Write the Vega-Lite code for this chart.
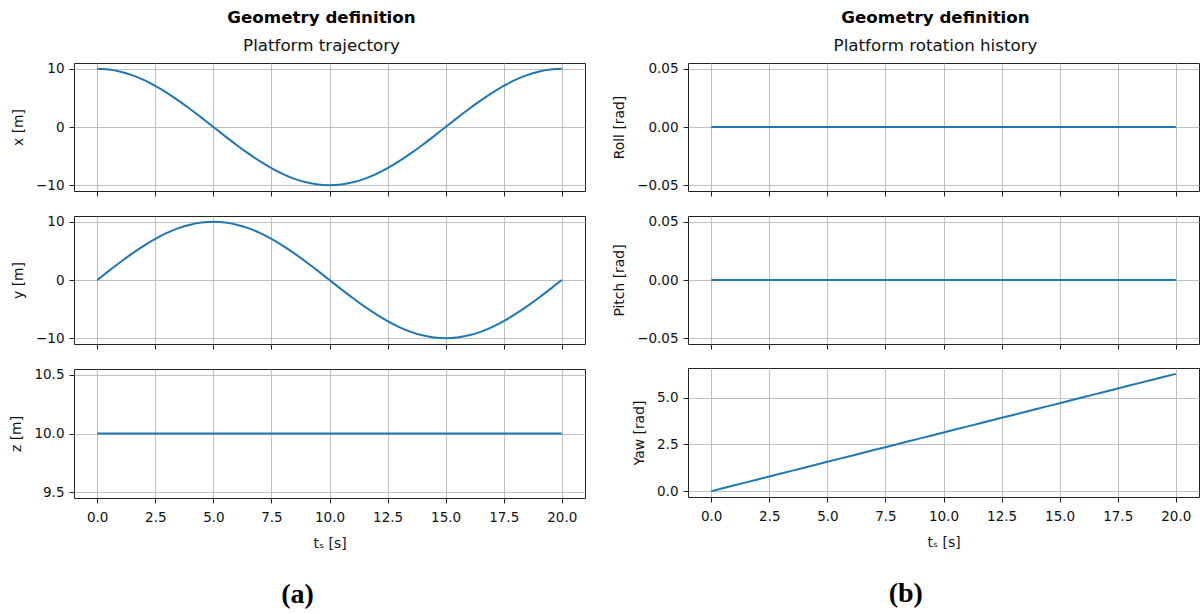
{
"$schema": "https://vega.github.io/schema/vega-lite/v6.json",
"background": "white",
"padding": {"left": 9, "top": 9, "right": 4, "bottom": 0},
"datasets": {"d": [
{"t":0,"x":10,"y":0,"z":10,"roll":0,"pitch":0,"yaw":0},
{"t":0.5,"x":9.877,"y":1.564,"z":10,"roll":0,"pitch":0,"yaw":0.157},
{"t":1,"x":9.511,"y":3.09,"z":10,"roll":0,"pitch":0,"yaw":0.314},
{"t":1.5,"x":8.91,"y":4.54,"z":10,"roll":0,"pitch":0,"yaw":0.471},
{"t":2,"x":8.09,"y":5.878,"z":10,"roll":0,"pitch":0,"yaw":0.628},
{"t":2.5,"x":7.071,"y":7.071,"z":10,"roll":0,"pitch":0,"yaw":0.785},
{"t":3,"x":5.878,"y":8.09,"z":10,"roll":0,"pitch":0,"yaw":0.942},
{"t":3.5,"x":4.54,"y":8.91,"z":10,"roll":0,"pitch":0,"yaw":1.1},
{"t":4,"x":3.09,"y":9.511,"z":10,"roll":0,"pitch":0,"yaw":1.257},
{"t":4.5,"x":1.564,"y":9.877,"z":10,"roll":0,"pitch":0,"yaw":1.414},
{"t":5,"x":0,"y":10,"z":10,"roll":0,"pitch":0,"yaw":1.571},
{"t":5.5,"x":-1.564,"y":9.877,"z":10,"roll":0,"pitch":0,"yaw":1.728},
{"t":6,"x":-3.09,"y":9.511,"z":10,"roll":0,"pitch":0,"yaw":1.885},
{"t":6.5,"x":-4.54,"y":8.91,"z":10,"roll":0,"pitch":0,"yaw":2.042},
{"t":7,"x":-5.878,"y":8.09,"z":10,"roll":0,"pitch":0,"yaw":2.199},
{"t":7.5,"x":-7.071,"y":7.071,"z":10,"roll":0,"pitch":0,"yaw":2.356},
{"t":8,"x":-8.09,"y":5.878,"z":10,"roll":0,"pitch":0,"yaw":2.513},
{"t":8.5,"x":-8.91,"y":4.54,"z":10,"roll":0,"pitch":0,"yaw":2.67},
{"t":9,"x":-9.511,"y":3.09,"z":10,"roll":0,"pitch":0,"yaw":2.827},
{"t":9.5,"x":-9.877,"y":1.564,"z":10,"roll":0,"pitch":0,"yaw":2.985},
{"t":10,"x":-10,"y":0,"z":10,"roll":0,"pitch":0,"yaw":3.142},
{"t":10.5,"x":-9.877,"y":-1.564,"z":10,"roll":0,"pitch":0,"yaw":3.299},
{"t":11,"x":-9.511,"y":-3.09,"z":10,"roll":0,"pitch":0,"yaw":3.456},
{"t":11.5,"x":-8.91,"y":-4.54,"z":10,"roll":0,"pitch":0,"yaw":3.613},
{"t":12,"x":-8.09,"y":-5.878,"z":10,"roll":0,"pitch":0,"yaw":3.77},
{"t":12.5,"x":-7.071,"y":-7.071,"z":10,"roll":0,"pitch":0,"yaw":3.927},
{"t":13,"x":-5.878,"y":-8.09,"z":10,"roll":0,"pitch":0,"yaw":4.084},
{"t":13.5,"x":-4.54,"y":-8.91,"z":10,"roll":0,"pitch":0,"yaw":4.241},
{"t":14,"x":-3.09,"y":-9.511,"z":10,"roll":0,"pitch":0,"yaw":4.398},
{"t":14.5,"x":-1.564,"y":-9.877,"z":10,"roll":0,"pitch":0,"yaw":4.555},
{"t":15,"x":0,"y":-10,"z":10,"roll":0,"pitch":0,"yaw":4.712},
{"t":15.5,"x":1.564,"y":-9.877,"z":10,"roll":0,"pitch":0,"yaw":4.869},
{"t":16,"x":3.09,"y":-9.511,"z":10,"roll":0,"pitch":0,"yaw":5.027},
{"t":16.5,"x":4.54,"y":-8.91,"z":10,"roll":0,"pitch":0,"yaw":5.184},
{"t":17,"x":5.878,"y":-8.09,"z":10,"roll":0,"pitch":0,"yaw":5.341},
{"t":17.5,"x":7.071,"y":-7.071,"z":10,"roll":0,"pitch":0,"yaw":5.498},
{"t":18,"x":8.09,"y":-5.878,"z":10,"roll":0,"pitch":0,"yaw":5.655},
{"t":18.5,"x":8.91,"y":-4.54,"z":10,"roll":0,"pitch":0,"yaw":5.812},
{"t":19,"x":9.511,"y":-3.09,"z":10,"roll":0,"pitch":0,"yaw":5.969},
{"t":19.5,"x":9.877,"y":-1.564,"z":10,"roll":0,"pitch":0,"yaw":6.126},
{"t":20,"x":10,"y":0,"z":10,"roll":0,"pitch":0,"yaw":6.283}
]},
"data": {"name": "d"},
"spacing": 26,
"hconcat": [
 {
  "title": {"text": "(a)", "orient": "bottom", "anchor": "middle", "font": "Liberation Serif", "fontSize": 28, "fontWeight": "bold", "offset": 30, "color": "#000"},
  "spacing": 17,
  "vconcat": [
   {"width": 511, "height": 128,
    "title": {"text": "Geometry definition", "subtitle": "Platform trajectory", "anchor": "middle", "frame": "group", "dx": -8, "fontSize": 16.7, "fontWeight": "bold", "subtitleFontSize": 16.7, "subtitlePadding": 11, "offset": 7, "color": "#000", "subtitleColor": "#111"},
    "mark": {"type": "line", "color": "#1f77b4", "strokeWidth": 2, "interpolate": "monotone"},
    "encoding": {
     "x": {"field": "t", "type": "quantitative", "scale": {"domain": [-1, 21], "nice": false, "zero": false}, "axis": {"values": [0,2.5,5,7.5,10,12.5,15,17.5,20], "labels": false, "title": null}},
     "y": {"field": "x", "type": "quantitative", "scale": {"domain": [-11, 11], "nice": false, "zero": false}, "axis": {"values": [-10,0,10], "format": "d", "title": "x [m]"}}}},
   {"width": 511, "height": 128, "mark": {"type": "line", "color": "#1f77b4", "strokeWidth": 2, "interpolate": "monotone"},
    "encoding": {
     "x": {"field": "t", "type": "quantitative", "scale": {"domain": [-1, 21], "nice": false, "zero": false}, "axis": {"values": [0,2.5,5,7.5,10,12.5,15,17.5,20], "labels": false, "title": null}},
     "y": {"field": "y", "type": "quantitative", "scale": {"domain": [-11, 11], "nice": false, "zero": false}, "axis": {"values": [-10,0,10], "format": "d", "title": "y [m]"}}}},
   {"width": 511, "height": 129, "mark": {"type": "line", "color": "#1f77b4", "strokeWidth": 2},
    "encoding": {
     "x": {"field": "t", "type": "quantitative", "scale": {"domain": [-1, 21], "nice": false, "zero": false}, "axis": {"values": [0,2.5,5,7.5,10,12.5,15,17.5,20], "format": ".1f", "title": "tₛ [s]"}},
     "y": {"field": "z", "type": "quantitative", "scale": {"domain": [9.45, 10.55], "nice": false, "zero": false}, "axis": {"values": [9.5,10,10.5], "format": ".1f", "title": "z [m]"}}}}
  ]
 },
 {
  "title": {"text": "(b)", "orient": "bottom", "anchor": "middle", "font": "Liberation Serif", "fontSize": 28, "fontWeight": "bold", "offset": 30, "color": "#000"},
  "spacing": 17,
  "vconcat": [
   {"width": 511, "height": 128,
    "title": {"text": "Geometry definition", "subtitle": "Platform rotation history", "anchor": "middle", "frame": "group", "dx": -8, "fontSize": 16.7, "fontWeight": "bold", "subtitleFontSize": 16.7, "subtitlePadding": 11, "offset": 7, "color": "#000", "subtitleColor": "#111"},
    "mark": {"type": "line", "color": "#1f77b4", "strokeWidth": 2},
    "encoding": {
     "x": {"field": "t", "type": "quantitative", "scale": {"domain": [-1, 21], "nice": false, "zero": false}, "axis": {"values": [0,2.5,5,7.5,10,12.5,15,17.5,20], "labels": false, "title": null}},
     "y": {"field": "roll", "type": "quantitative", "scale": {"domain": [-0.055, 0.055], "nice": false, "zero": false}, "axis": {"values": [-0.05,0,0.05], "format": ".2f", "title": "Roll [rad]"}}}},
   {"width": 511, "height": 128, "mark": {"type": "line", "color": "#1f77b4", "strokeWidth": 2},
    "encoding": {
     "x": {"field": "t", "type": "quantitative", "scale": {"domain": [-1, 21], "nice": false, "zero": false}, "axis": {"values": [0,2.5,5,7.5,10,12.5,15,17.5,20], "labels": false, "title": null}},
     "y": {"field": "pitch", "type": "quantitative", "scale": {"domain": [-0.055, 0.055], "nice": false, "zero": false}, "axis": {"values": [-0.05,0,0.05], "format": ".2f", "title": "Pitch [rad]"}}}},
   {"width": 511, "height": 129, "mark": {"type": "line", "color": "#1f77b4", "strokeWidth": 2},
    "encoding": {
     "x": {"field": "t", "type": "quantitative", "scale": {"domain": [-1, 21], "nice": false, "zero": false}, "axis": {"values": [0,2.5,5,7.5,10,12.5,15,17.5,20], "format": ".1f", "title": "tₛ [s]"}},
     "y": {"field": "yaw", "type": "quantitative", "scale": {"domain": [-0.314, 6.597], "nice": false, "zero": false}, "axis": {"values": [0,2.5,5], "format": ".1f", "title": "Yaw [rad]"}}}}
  ]
 }
],
"config": {
 "font": "DejaVu Sans",
 "view": {"stroke": "#222", "strokeWidth": 1},
 "title": {"font": "DejaVu Sans"},
 "axis": {"grid": true, "gridColor": "#b0b0b0", "gridWidth": 0.8, "domain": false, "tickColor": "#222", "tickSize": 5, "tickWidth": 1, "labelFontSize": 13.5, "labelColor": "#111", "labelFont": "DejaVu Sans", "titleFont": "DejaVu Sans", "titleFontSize": 13.9, "titleFontWeight": "normal", "titleColor": "#111", "labelPadding": 5},
 "axisY": {"titlePadding": 10},
 "axisX": {"titlePadding": 13, "labelPadding": 7}
}
}
